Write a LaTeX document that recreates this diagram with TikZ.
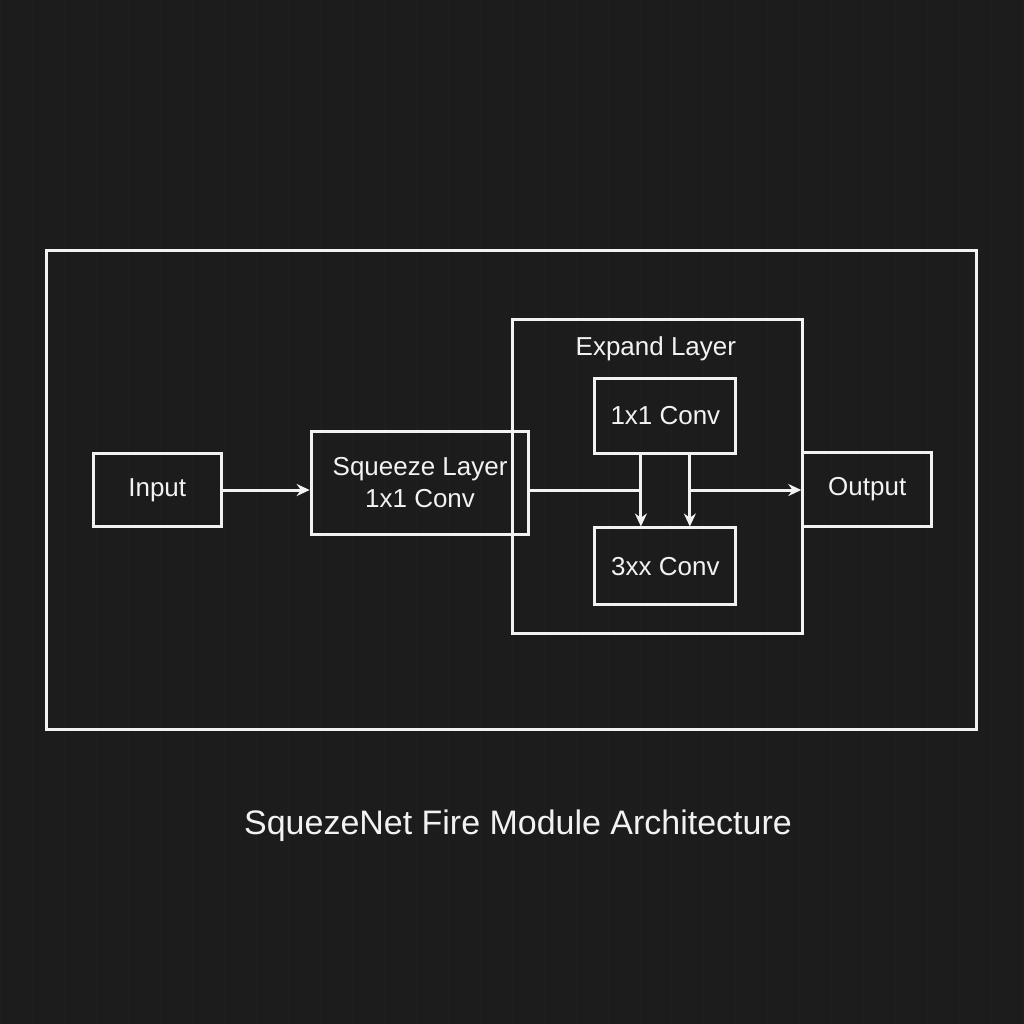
\documentclass[tikz,border=0pt]{standalone}
\usepackage{fontspec}
\setmainfont{Liberation Sans}
\usetikzlibrary{positioning,arrows.meta}
\definecolor{bgdark}{HTML}{1C1C1C}
\definecolor{gridline}{HTML}{1F1F1F}
\definecolor{lightline}{HTML}{F2F2F2}
\tikzset{every picture/.style={line width=3pt}}

\begin{document}
\begin{tikzpicture}[x=1pt, y=-1pt,
    box/.style={draw=lightline, rectangle, inner sep=0pt, text=lightline, font=\fontsize{26}{32}\selectfont, align=center},
    flow/.style={draw=lightline, -{Stealth[length=13pt,width=12pt]}}]
    % Background
    \fill[bgdark] (0,0) rectangle (1024,1024);
    \draw[gridline, line width=0.8pt, step=32] (0,0) grid (1024,1024);
    \useasboundingbox (0,0) rectangle (1024,1024);

    % Outer frame
    \draw[lightline] (46,250) rectangle (977,730);

    % Expand group
    \draw[lightline] (512,319) rectangle (803,634);
    \node[text=lightline, font=\fontsize{26}{32}\selectfont] (expandlbl) at (656,349) {Expand Layer};

    % Blocks
    \node[box, minimum width=128, minimum height=74] (input) at (157,490) {Input};
    \node[box, minimum width=218, minimum height=104] (squeeze) at (420,483) {Squeeze Layer\\1x1 Conv};
    \node[box, minimum width=141, minimum height=75] (conv1) at (665.5,415.5) {1x1 Conv};
    \node[box, minimum width=141, minimum height=77] (conv3) at (665.5,566.5) {3xx Conv};
    \node[box, minimum width=129, minimum height=75] (output) at (867.5,489.5) {Output};

    % Connections
    \coordinate (joinl) at (641,490);
    \coordinate (joinr) at (690,490);
    \draw[flow] (input.east |- 0,490) -- (squeeze.west |- 0,490);
    \draw[lightline] (squeeze.east |- 0,490) -- (joinl);
    \draw[flow] (conv1.south -| joinl) -- (conv3.north -| joinl);
    \draw[flow] (conv1.south -| joinr) -- (conv3.north -| joinr);
    \draw[flow] (joinr) -- (output.west |- joinr);

    % Caption
    \node[text=lightline, font=\fontsize{34}{40}\selectfont] (caption) at (518,826) {SquezeNet Fire Module Architecture};
\end{tikzpicture}
\end{document}
